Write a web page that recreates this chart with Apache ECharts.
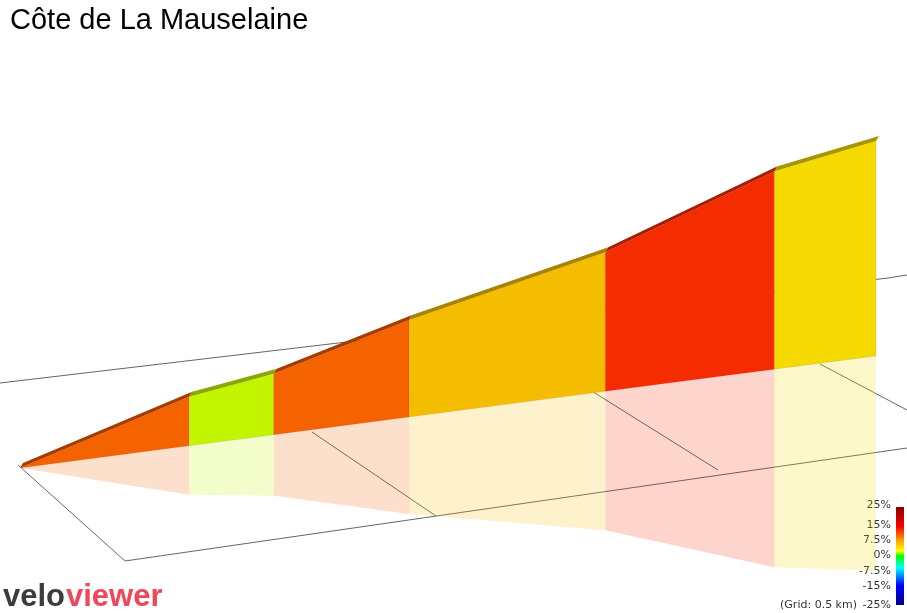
<!DOCTYPE html>
<html><head><meta charset="utf-8">
<script src="https://cdn.jsdelivr.net/npm/echarts@6/dist/echarts.min.js"></script>
<style>html,body{margin:0;padding:0;background:#fff}#c{width:907px;height:613px}</style>
</head><body><div id="c"></div>
<script>
// distance (km) at segment boundaries
const distances = [0, 0.50, 0.75, 1.15, 1.73, 2.23, 2.53];
// elevation gained above start (m, relative) at boundaries
const elevations = [0, 49, 61, 97, 139, 198, 215];
// segment colours by gradient
const segColors = ['#f56200', '#c4f500', '#f56200', '#f5bd00', '#f52c00', '#f5da00'];
const topColors = ['#a83c00', '#8aa800', '#a83c00', '#a88200', '#a81e00', '#a89600'];
const legendLabels = ['25%', '15%', '7.5%', '0%', '-7.5%', '-15%', '-25%'];

const BASE0 = 132, BASESLOPE = 44.3;
const base = d => BASE0 + BASESLOPE * d;
const segs = [];
for (let i = 0; i < distances.length - 1; i++) segs.push([distances[i], distances[i+1], elevations[i], elevations[i+1], i]);

function renderItem(params, api) {
  const d0 = api.value(0), d1 = api.value(1), e0 = api.value(2), e1 = api.value(3), i = api.value(4);
  const b0 = base(d0), b1 = base(d1);
  const c = p => api.coord(p);
  const refl = [c([d0,b0]), c([d0,b0-e0]), c([d1,b1-e1]), c([d1,b1])];
  const face = [c([d0,b0]), c([d0,b0+e0]), c([d1,b1+e1]), c([d1,b1])];
  const t0 = c([d0,b0+e0]), t1 = c([d1,b1+e1]);
  const top = [t0, t1, [t1[0]+3, t1[1]-5], [t0[0]+3, t0[1]-5]];
  return {type:'group', children:[
    {type:'polygon', shape:{points:refl}, style:{fill:segColors[i], opacity:0.2}},
    {type:'polygon', shape:{points:top}, style:{fill:topColors[i]}},
    {type:'polygon', shape:{points:face}, style:{fill:segColors[i], stroke:'rgba(0,0,0,0.08)', lineWidth:1}}
  ]};
}

const gridLines = [
  [[0,383],[888,278]], [[888,278],[907,275]], [[18,465],[125,561]], [[125,561],[907,448]],
  [[312,432],[436,516]], [[574,380],[718,470]], [[820,364],[907,410]]
];
const graphics = gridLines.map(l => ({type:'line', z:-1, shape:{x1:l[0][0],y1:l[0][1],x2:l[1][0],y2:l[1][1]}, style:{stroke:'#666', lineWidth:1}}));
graphics.push({type:'rect', shape:{x:896,y:507,width:8,height:98}, style:{fill:new echarts.graphic.LinearGradient(0,0,0,1,[
  {offset:0,color:'#8b0000'},{offset:0.2,color:'#ff0000'},{offset:0.35,color:'#ffaa00'},{offset:0.45,color:'#ffff00'},
  {offset:0.5,color:'#00ff00'},{offset:0.62,color:'#00ffff'},{offset:0.8,color:'#0000ff'},{offset:1,color:'#00008b'}])}});
const ly = [505, 525, 540, 555, 571, 586, 605];
legendLabels.forEach((t,k) => graphics.push({type:'text', style:{text:t, x:891, y:ly[k], align:'right', verticalAlign:'middle', font:'11px "DejaVu Sans"', fill:'#333'}}));
graphics.push({type:'text', style:{text:'(Grid: 0.5 km)', x:857, y:605, align:'right', verticalAlign:'middle', font:'11px "DejaVu Sans"', fill:'#333'}});
graphics.push({type:'text', style:{text:'velo', x:3, y:597, verticalAlign:'middle', font:'bold 31px "Liberation Sans"', fill:'#3c3c3c'}});
graphics.push({type:'text', style:{text:'viewer', x:66, y:597, verticalAlign:'middle', font:'bold 31px "Liberation Sans"', fill:'#f0475a'}});

const chart = echarts.init(document.getElementById('c'));
chart.setOption({
  animation:false,
  title:{text:'Côte de La Mauselaine', left:5, top:1, textStyle:{fontSize:29, fontWeight:'normal', color:'#000', fontFamily:'Liberation Sans'}},
  grid:{left:20, right:31, top:0, bottom:13},
  xAxis:{type:'value', min:0, max:2.53, show:false},
  yAxis:{type:'value', min:0, max:600, show:false},
  series:[{type:'custom', renderItem, data:segs, clip:false}],
  graphic:graphics
});
</script></body></html>
